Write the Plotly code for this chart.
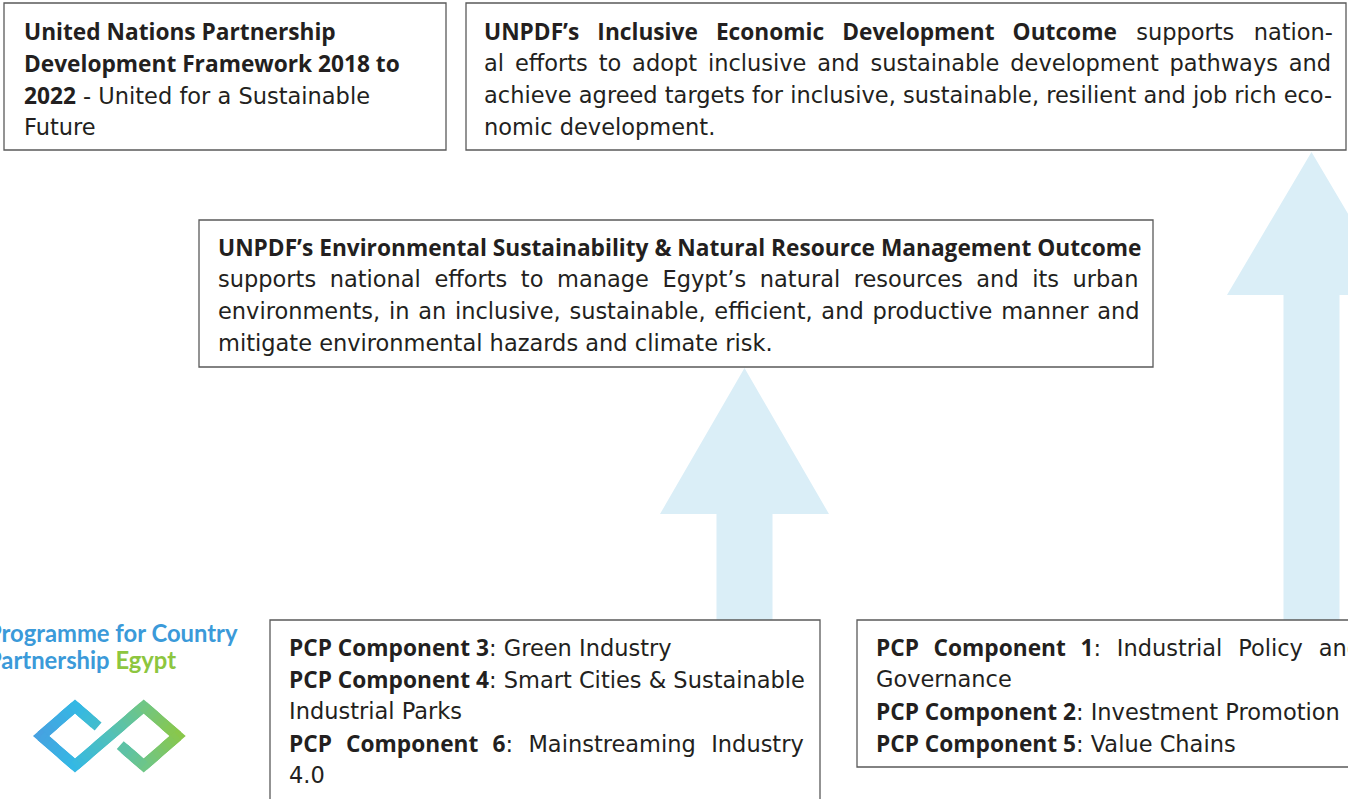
import plotly.graph_objects as go

# ---------------- text content ----------------
# each line: (bold part, regular part)
framework_lines = [
    ("United Nations Partnership", ""),
    ("Development Framework 2018 to", ""),
    ("2022", " - United for a Sustainable"),
    ("", "Future"),
]
economic_lines = [
    ("UNPDF’s Inclusive Economic Development Outcome", " supports nation-"),
    ("", "al efforts to adopt inclusive and sustainable development pathways and"),
    ("", "achieve agreed targets for inclusive, sustainable, resilient and job rich eco-"),
    ("", "nomic development."),
]
environment_lines = [
    ("UNPDF’s Environmental Sustainability &amp; Natural Resource Management Outcome", ""),
    ("", "supports national efforts to manage Egypt’s natural resources and its urban"),
    ("", "environments, in an inclusive, sustainable, efficient, and productive manner and"),
    ("", "mitigate environmental hazards and climate risk."),
]
green_lines = [
    ("PCP Component 3", ": Green Industry"),
    ("PCP Component 4", ": Smart Cities &amp; Sustainable"),
    ("", "Industrial Parks"),
    ("PCP Component 6", ": Mainstreaming Industry"),
    ("", "4.0"),
]
policy_lines = [
    ("PCP Component 1", ": Industrial Policy and"),
    ("", "Governance"),
    ("PCP Component 2", ": Investment Promotion"),
    ("PCP Component 5", ": Value Chains"),
]
logo_line1 = "Programme for Country"
logo_line2a = "Partnership "
logo_line2b = "Egypt"

# ---------------- layout constants ----------------
W, H = 1348, 799
FONT = "DejaVu Sans"
FS = 22.5
BOLD_FONT = "Open Sans"
BOLD_FS = 22.7
TXT = "#231F20"
BORDER = "#5a5a5a"
ARROW = "#DAEEF7"
LINE_GAP = 32

# extra word spacing (px) per line, to imitate the justified setting
boxes = [
    # x0, y0, x1, y1, text x, first line y, lines, word spacing per line
    (4, 3, 446, 150, 22, 31, framework_lines, [0, 0, 0, 0]),
    (466, 3, 1346, 150, 482, 31, economic_lines, [12.2, 3.7, 0, 0]),
    (199, 220, 1153, 367, 216, 247, environment_lines, [0, 6.4, 1.6, 0]),
    (270, 620, 820, 812, 287, 647, green_lines, [0, 0, 0, 8.25, 0]),
    (857, 620, 1362, 767, 874, 647, policy_lines, [8.7, 0, 0, 0]),
]

# arrows: tip x, tip y, head base y, head half width, shaft half width, shaft bottom y
arrows = [
    (744.5, 368, 514, 84.5, 28, 620),
    (1311.5, 152, 295, 84.5, 28, 620),
]


def build_line(bold, reg, ws):
    out = ""
    if bold:
        out += (f'<b><span style="font-family:{BOLD_FONT};font-size:{BOLD_FS}px;'
                f'word-spacing:{ws}px">{bold}</span></b>')
    if reg:
        out += f'<span style="word-spacing:{ws}px">{reg}</span>'
    return out


fig = go.Figure()

shapes = []
for tx, ty, hy, hw, sw, by in arrows:
    path = (f"M{tx},{ty} L{tx+hw},{hy} L{tx+sw},{hy} L{tx+sw},{by} "
            f"L{tx-sw},{by} L{tx-sw},{hy} L{tx-hw},{hy} Z")
    shapes.append(dict(type="path", path=path, xref="x", yref="y",
                       fillcolor=ARROW, line=dict(width=0), layer="below"))

annotations = []
for x0, y0, x1, y1, tx, ly, lines, spacing in boxes:
    shapes.append(dict(type="rect", x0=x0, y0=y0, x1=x1, y1=y1, xref="x", yref="y",
                       fillcolor="white", line=dict(color=BORDER, width=1.3), layer="below"))
    for i, ((bold, reg), ws) in enumerate(zip(lines, spacing)):
        annotations.append(dict(x=tx, y=ly + i * LINE_GAP, xref="x", yref="y",
                                text=build_line(bold, reg, ws),
                                showarrow=False, xanchor="left", yanchor="middle", align="left",
                                font=dict(family=FONT, size=FS, color=TXT)))

# logo text (its first letter runs off the left edge, as in the original crop)
LOGO_FONT = dict(family="Lato", size=23.8, color="#3B9AD9")
annotations.append(dict(x=-15 / W, y=632.5, xref="paper", yref="y",
                        text=f"<b>{logo_line1}</b>", showarrow=False,
                        xanchor="left", yanchor="middle", align="left", font=LOGO_FONT))
annotations.append(dict(x=-15 / W, y=659.5, xref="paper", yref="y",
                        text=f"<b>{logo_line2a}<span style='color:#8DC63F'>{logo_line2b}</span></b>",
                        showarrow=False, xanchor="left", yanchor="middle", align="left",
                        font=LOGO_FONT))

# logo mark (two interlocked diamonds with a blue->green gradient)
cl, cr, cy, a, b, lw = 75.0, 143.7, 736.0, 34.0, 29.5, 10.5
L_top, L_left, L_bot, L_right = (cl, cy - b), (cl - a, cy), (cl, cy + b), (cl + a, cy)
R_top, R_right, R_bot, R_left = (cr, cy - b), (cr + a, cy), (cr, cy + b), (cr - a, cy)
start = (L_top[0] + 0.68 * (L_right[0] - L_top[0]), L_top[1] + 0.68 * (L_right[1] - L_top[1]))
end = (R_bot[0] + 0.69 * (R_left[0] - R_bot[0]), R_bot[1] + 0.69 * (R_left[1] - R_bot[1]))
verts = [start, L_top, L_left, L_bot, R_top, R_right, R_bot, end]

pts = []
for (xa, ya), (xb, yb) in zip(verts[:-1], verts[1:]):
    dist = ((xb - xa) ** 2 + (yb - ya) ** 2) ** 0.5
    n = max(1, int(dist / 5))
    for k in range(n):
        pts.append((xa + (xb - xa) * k / n, ya + (yb - ya) * k / n))
pts.append(verts[-1])

stops = [(34, (74, 158, 224)), (75, (52, 184, 228)), (110, (80, 192, 188)),
         (145, (112, 198, 132)), (184, (142, 199, 64))]


def grad(x):
    if x <= stops[0][0]:
        return stops[0][1]
    for (xa, ca), (xb, cb) in zip(stops[:-1], stops[1:]):
        if x <= xb:
            t = (x - xa) / (xb - xa)
            return tuple(int(round(ca[j] + (cb[j] - ca[j]) * t)) for j in range(3))
    return stops[-1][1]


for k in range(len(pts) - 2):
    p0, p1, p2 = pts[k], pts[k + 1], pts[k + 2]
    c = grad(p1[0])
    shapes.append(dict(type="path", xref="x", yref="y",
                       path=f"M{p0[0]:.2f},{p0[1]:.2f} L{p1[0]:.2f},{p1[1]:.2f} L{p2[0]:.2f},{p2[1]:.2f}",
                       line=dict(color=f"rgb{c}", width=lw)))

fig.update_layout(
    width=W, height=H, margin=dict(l=0, r=0, t=0, b=0),
    paper_bgcolor="white", plot_bgcolor="white",
    xaxis=dict(range=[0, W], visible=False, fixedrange=True),
    yaxis=dict(range=[H, 0], visible=False, fixedrange=True),
    shapes=shapes, annotations=annotations, showlegend=False,
)

fig.write_html("out.html", config={"displayModeBar": False},
               post_script="document.body.style.margin='0';document.body.style.overflow='hidden';")
